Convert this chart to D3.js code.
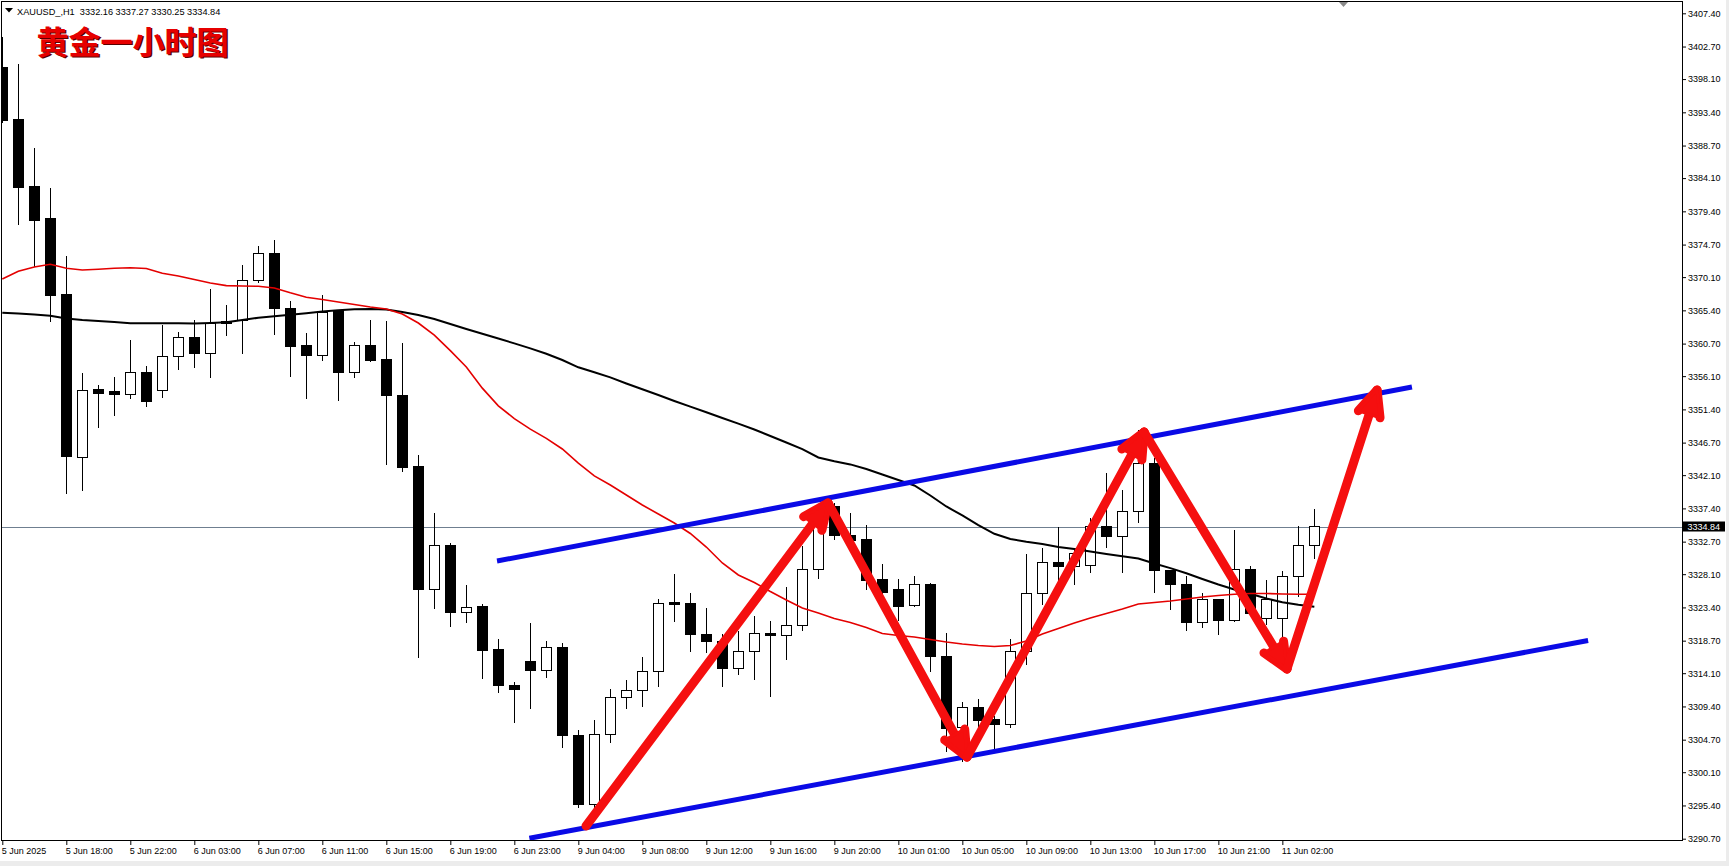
<!DOCTYPE html>
<html><head><meta charset="utf-8">
<script src="https://cdn.jsdelivr.net/npm/d3@7"></script>
<style>html,body{margin:0;padding:0;background:#fff;overflow:hidden}svg{display:block}</style>
</head><body><svg id="c" width="1729" height="866"></svg>
<script>
// ---------------- data ----------------
const symbolInfo = "XAUUSD_,H1  3332.16 3337.27 3330.25 3334.84";
const titleText = "黄金一小时图";
const timeLabels = ["5 Jun 2025","5 Jun 18:00","5 Jun 22:00","6 Jun 03:00","6 Jun 07:00","6 Jun 11:00","6 Jun 15:00","6 Jun 19:00","6 Jun 23:00","9 Jun 04:00","9 Jun 08:00","9 Jun 12:00","9 Jun 16:00","9 Jun 20:00","10 Jun 01:00","10 Jun 05:00","10 Jun 09:00","10 Jun 13:00","10 Jun 17:00","10 Jun 21:00","11 Jun 02:00"];
const timeLabelBars = [0,4,8,12,16,20,24,28,32,36,40,44,48,52,56,60,64,68,72,76,80];
const priceTicks = [3407.40,3402.70,3398.10,3393.40,3388.70,3384.10,3379.40,3374.70,3370.10,3365.40,3360.70,3356.10,3351.40,3346.70,3342.10,3337.40,3332.70,3328.10,3323.40,3318.70,3314.10,3309.40,3304.70,3300.10,3295.40,3290.70];
const openP  = [3399.7,3392.4,3382.9,3378.4,3367.6,3344.6,3354.2,3353.9,3353.5,3356.6,3354.1,3358.9,3361.6,3359.3,3363.8,3363.9,3369.6,3373.5,3365.7,3360.4,3359.0,3365.4,3356.6,3360.4,3358.4,3353.4,3343.3,3326.0,3332.2,3322.7,3323.6,3317.4,3312.4,3315.7,3314.5,3317.8,3305.3,3295.5,3305.5,3310.6,3311.6,3314.4,3324.1,3323.9,3319.6,3318.6,3314.8,3317.1,3319.7,3319.4,3320.9,3328.7,3337.6,3333.6,3333.0,3327.3,3325.9,3323.7,3326.7,3316.5,3306.4,3309.2,3307.5,3306.9,3317.1,3325.4,3329.8,3329.2,3329.3,3334.9,3333.4,3336.9,3343.7,3328.6,3326.7,3321.2,3324.5,3321.5,3328.8,3321.9,3321.9,3327.8,3332.16];
const highP  = [3404.0,3400.3,3388.4,3382.7,3373.1,3356.6,3354.9,3356.0,3361.2,3357.5,3363.3,3362.3,3364.0,3368.4,3366.2,3371.8,3374.5,3375.4,3366.7,3362.2,3367.6,3365.5,3360.9,3364.0,3363.9,3360.8,3345.0,3336.8,3332.5,3326.6,3323.9,3318.9,3312.9,3321.2,3318.6,3318.3,3306.0,3307.5,3311.8,3313.2,3316.4,3324.6,3328.1,3325.4,3323.3,3319.6,3320.0,3322.2,3321.5,3326.3,3332.1,3337.8,3338.1,3336.8,3335.1,3329.5,3327.4,3327.8,3326.8,3319.8,3310.0,3310.4,3308.0,3318.9,3331.0,3331.8,3334.8,3331.5,3336.0,3342.4,3340.0,3348.5,3344.5,3328.7,3327.8,3325.4,3324.6,3334.3,3329.2,3327.3,3328.5,3334.9,3337.27];
const lowP   = [3391.9,3377.5,3371.6,3363.8,3339.4,3339.9,3348.8,3350.5,3352.8,3351.8,3353.0,3357.0,3357.2,3355.9,3361.8,3359.2,3369.3,3361.9,3356.0,3352.8,3358.3,3352.6,3355.8,3358.1,3343.5,3342.6,3316.3,3323.2,3320.7,3321.2,3313.3,3311.3,3307.0,3309.0,3313.4,3303.5,3295.0,3294.8,3304.2,3309.0,3309.3,3312.2,3321.3,3317.1,3316.9,3312.2,3313.9,3313.1,3310.8,3315.9,3320.0,3327.4,3332.9,3331.5,3325.9,3325.3,3321.5,3323.5,3314.3,3303.0,3301.6,3306.1,3303.2,3306.4,3315.3,3323.7,3326.3,3326.5,3328.2,3331.8,3328.3,3335.3,3325.4,3323.0,3320.0,3320.5,3319.5,3321.4,3322.3,3320.9,3315.7,3324.9,3330.25];
const closeP = [3392.3,3382.7,3378.1,3367.5,3344.7,3354.0,3353.7,3353.5,3356.6,3352.5,3358.9,3361.6,3359.3,3363.6,3363.5,3369.6,3373.5,3365.7,3360.3,3359.0,3365.1,3356.6,3360.4,3358.3,3353.3,3343.2,3325.9,3332.2,3322.7,3323.4,3317.3,3312.3,3311.8,3314.5,3317.8,3305.3,3295.5,3305.5,3310.6,3311.6,3314.4,3324.0,3323.8,3319.6,3318.6,3314.7,3317.1,3319.7,3319.4,3320.8,3328.7,3337.5,3333.6,3332.9,3327.2,3325.5,3323.5,3326.7,3316.4,3306.3,3309.2,3307.4,3306.9,3317.1,3325.4,3329.8,3329.2,3331.0,3334.9,3333.4,3336.9,3343.7,3328.6,3326.7,3321.2,3324.5,3321.5,3328.8,3322.5,3324.5,3327.8,3332.2,3334.84];
const maRed = [3369.83,3370.92,3371.53,3371.91,3371.35,3371.11,3371.21,3371.35,3371.42,3371.32,3370.64,3370.26,3369.76,3369.27,3368.90,3368.84,3368.80,3368.56,3367.88,3367.26,3366.94,3366.58,3366.22,3365.88,3365.60,3364.89,3363.61,3361.90,3359.70,3357.40,3354.40,3351.90,3350.10,3348.60,3347.30,3345.80,3343.80,3342.00,3340.71,3339.30,3337.88,3336.61,3335.34,3333.85,3331.94,3329.68,3327.99,3326.92,3325.65,3324.45,3323.32,3322.61,3321.83,3321.27,3320.56,3319.71,3319.43,3319.22,3318.87,3318.51,3318.23,3318.02,3317.88,3318.02,3318.66,3319.64,3320.42,3321.20,3321.90,3322.54,3323.18,3323.89,3324.10,3324.31,3324.59,3324.87,3325.09,3325.27,3325.37,3325.37,3325.30,3325.27,3325.26];
const maBlack = [3365.07,3364.96,3364.83,3364.65,3364.24,3364.04,3363.90,3363.75,3363.58,3363.57,3363.57,3363.56,3363.54,3363.61,3363.73,3364.04,3364.35,3364.58,3364.77,3364.99,3365.24,3365.40,3365.54,3365.58,3365.52,3365.17,3364.75,3364.18,3363.47,3362.77,3362.09,3361.42,3360.73,3360.02,3359.27,3358.38,3357.35,3356.64,3355.92,3355.06,3354.24,3353.43,3352.59,3351.79,3350.99,3350.18,3349.38,3348.56,3347.64,3346.72,3345.77,3344.60,3344.06,3343.62,3342.97,3342.19,3341.42,3340.64,3339.22,3337.67,3336.40,3335.05,3333.81,3333.07,3332.69,3332.37,3331.94,3331.66,3331.31,3330.96,3330.63,3330.31,3329.61,3328.95,3328.24,3327.42,3326.64,3325.94,3325.33,3324.66,3324.13,3323.77,3323.50];
const lastPrice = 3334.84;
const channelUpper = [[30.92,3329.96],[88.10,3354.57]];
const channelLower = [[32.94,3290.76],[99.11,3318.72]];
const arrowPath = [[36.48,3292.5],[51.61,3338.16],[60.29,3302.25],[71.36,3348.2],[80.29,3314.7],[85.92,3354.14]];

// ---------------- layout ----------------
const W = 1729, H = 866;
const plotL = 1.5, plotR = 1682.5, plotT = 1.5, plotB = 840.5;
const svg = d3.select("#c");
const x = d3.scaleLinear().domain([-0.144, 105.04]).range([0, 1683]);
const y = d3.scaleLinear().domain([3290.7, 3407.4]).range([838.7, 13.3]);

svg.append("rect").attr("width", W).attr("height", H).attr("fill", "#fff");
svg.append("rect").attr("x", 0).attr("y", 861).attr("width", W).attr("height", 5).attr("fill", "#ececec");
svg.append("rect").attr("x", 1726).attr("y", 0).attr("width", 3).attr("height", H).attr("fill", "#ececec");

svg.append("clipPath").attr("id", "pc").append("rect")
  .attr("x", plotL).attr("y", plotT).attr("width", plotR - plotL).attr("height", plotB - plotT);
const plot = svg.append("g").attr("clip-path", "url(#pc)");

// current price line
plot.append("line").attr("x1", plotL).attr("x2", plotR)
  .attr("y1", Math.round(y(lastPrice)) + 0.5).attr("y2", Math.round(y(lastPrice)) + 0.5)
  .attr("stroke", "#6f7f90").attr("stroke-width", 1);

// candles
const bars = d3.range(openP.length);
const cg = plot.append("g").attr("shape-rendering", "crispEdges");
bars.forEach(i => {
  const cx = Math.round(x(i)) + 0.5;
  cg.append("line").attr("x1", cx).attr("x2", cx)
    .attr("y1", y(highP[i])).attr("y2", y(lowP[i])).attr("stroke", "#000").attr("stroke-width", 1);
  const top = y(Math.max(openP[i], closeP[i])), bot = y(Math.min(openP[i], closeP[i]));
  const bull = closeP[i] >= openP[i];
  cg.append("rect").attr("x", cx - 5).attr("y", top).attr("width", 10)
    .attr("height", Math.max(1, bot - top))
    .attr("fill", bull ? "#fff" : "#000").attr("stroke", "#000").attr("stroke-width", 1);
});

// moving averages
const maLine = d3.line().x((d, i) => x(i)).y(d => y(d)).curve(d3.curveLinear);
plot.append("path").datum(maBlack).attr("d", maLine).attr("fill", "none")
  .attr("stroke", "#000").attr("stroke-width", 2);
plot.append("path").datum(maRed).attr("d", maLine).attr("fill", "none")
  .attr("stroke", "#e40000").attr("stroke-width", 1.6);

// channel lines
[channelUpper, channelLower].forEach(seg => {
  plot.append("line")
    .attr("x1", x(seg[0][0])).attr("y1", y(seg[0][1]))
    .attr("x2", x(seg[1][0])).attr("y2", y(seg[1][1]))
    .attr("stroke", "#0a0ae6").attr("stroke-width", 5).attr("stroke-linecap", "butt");
});

// red arrows
const ag = plot.append("g").attr("stroke", "#f50f0f").attr("fill", "none")
  .attr("stroke-width", 9).attr("stroke-linecap", "round").attr("stroke-linejoin", "round");
for (let k = 1; k < arrowPath.length; k++) {
  const p0 = [x(arrowPath[k-1][0]), y(arrowPath[k-1][1])];
  const p1 = [x(arrowPath[k][0]), y(arrowPath[k][1])];
  ag.append("line").attr("x1", p0[0]).attr("y1", p0[1]).attr("x2", p1[0]).attr("y2", p1[1]);
  const dx = p0[0] - p1[0], dy = p0[1] - p1[1], L = Math.hypot(dx, dy);
  const ux = dx / L, uy = dy / L, len = 28, a = 24 * Math.PI / 180;
  const b1 = [p1[0] + len * (ux * Math.cos(a) - uy * Math.sin(a)), p1[1] + len * (ux * Math.sin(a) + uy * Math.cos(a))];
  const b2 = [p1[0] + len * (ux * Math.cos(-a) - uy * Math.sin(-a)), p1[1] + len * (ux * Math.sin(-a) + uy * Math.cos(-a))];
  ag.append("path").attr("d", `M${b1[0]},${b1[1]}L${p1[0]},${p1[1]}L${b2[0]},${b2[1]}`);
  ag.append("path").attr("d", `M${b1[0]},${b1[1]}L${p1[0]},${p1[1]}L${b2[0]},${b2[1]}Z`)
    .attr("fill", "#f50f0f").attr("stroke-width", 3);
}

// frame
svg.append("rect").attr("x", plotL).attr("y", plotT).attr("width", plotR - plotL).attr("height", plotB - plotT)
  .attr("fill", "none").attr("stroke", "#000").attr("stroke-width", 1).attr("shape-rendering", "crispEdges");

// shift marker (top)
svg.append("path").attr("d", "M1339,2L1348,2L1343.5,7Z").attr("fill", "#8a8a8a");

// axes
const fontFam = "'Liberation Sans', Arial, sans-serif";
const ya = svg.append("g").attr("transform", `translate(${plotR + 0.5},0)`)
  .call(d3.axisRight(y).tickValues(priceTicks).tickFormat(d => d.toFixed(2)).tickSize(3).tickPadding(2));
ya.select(".domain").remove();
ya.selectAll("text").attr("font-family", fontFam).attr("font-size", 9).attr("fill", "#000");
ya.selectAll("line").attr("stroke", "#000");

const xa = svg.append("g").attr("transform", `translate(0,${plotB + 0.5})`)
  .call(d3.axisBottom(x).tickValues(timeLabelBars).tickFormat((d, i) => timeLabels[i]).tickSize(4).tickPadding(3));
xa.select(".domain").remove();
xa.selectAll("text").attr("font-family", fontFam).attr("font-size", 9).attr("fill", "#000")
  .attr("text-anchor", "start").attr("dx", -1);
xa.selectAll("line").attr("stroke", "#000");

// last price label
const ly = y(lastPrice);
svg.append("rect").attr("x", plotR + 0.5).attr("y", ly - 5).attr("width", 42).attr("height", 10).attr("fill", "#000");
svg.append("text").attr("x", plotR + 5).attr("y", ly + 3.3).attr("font-family", fontFam).attr("font-size", 9)
  .attr("fill", "#fff").text(lastPrice.toFixed(2));

// header
svg.append("path").attr("d", "M5,8L13,8L9,12.5Z").attr("fill", "#000");
svg.append("text").attr("x", 17).attr("y", 14.5).attr("font-family", fontFam).attr("font-size", 9.2)
  .attr("fill", "#000").attr("xml:space", "preserve").style("white-space", "pre").text(symbolInfo);

// title with shadow
const tFont = "'Noto Sans CJK SC', 'Noto Sans CJK TC', sans-serif";
svg.append("text").attr("x", 38).attr("y", 55).attr("font-family", tFont).attr("font-weight", 700)
  .attr("font-size", 32).attr("fill", "#5a0000").text(titleText);
svg.append("text").attr("x", 36.5).attr("y", 53.5).attr("font-family", tFont).attr("font-weight", 700)
  .attr("font-size", 32).attr("fill", "#e60000").text(titleText);
</script></body></html>
